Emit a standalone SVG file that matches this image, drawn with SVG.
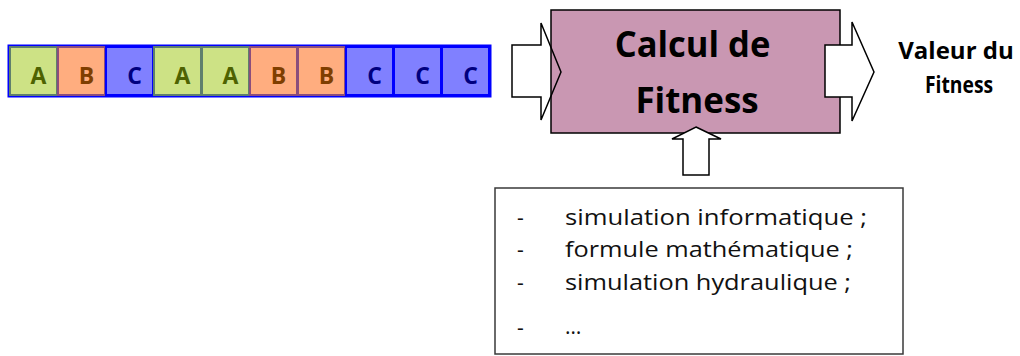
<svg xmlns="http://www.w3.org/2000/svg" width="1020" height="356" viewBox="0 0 1020 356">
  <style>
    .gene { stroke-width: 2; }
    .ga { fill: #cde285; stroke: #5f7f6d; }
    .gb { fill: #ffad7f; stroke: #8b4e7c; }
    .gc { fill: #8080ff; stroke: #0000ff; }
    .gt { font-family: "Open Sans", "Liberation Sans", sans-serif; font-weight: bold; font-size: 23px; text-anchor: middle; }
    .ta { fill: #4e6201; }
    .tb { fill: #7f3e00; }
    .tc { fill: #00007f; }
    .head { font-family: "Open Sans", "Liberation Sans", sans-serif; font-weight: bold; fill: #000; text-anchor: middle; }
    .item { font-family: "Open Sans", "Liberation Sans", sans-serif; font-size: 21px; fill: #111; }
    .blk { stroke: #000; stroke-width: 1.5; stroke-linejoin: miter; }
  </style>
  <defs>
    <polygon id="inArrow" points="512,45 541,45 541,23 561,72 541,120 541,97 512,97"/>
  </defs>

  <rect width="1020" height="356" fill="#ffffff"/>

  <!-- chromosome strip -->
  <g id="chromosome">
    <rect x="8.5" y="45.5" width="482" height="51" fill="none" stroke="#0000ff" stroke-width="2"/>
    <rect class="gene ga" x="10" y="47" width="47" height="48"/>
    <rect class="gene gb" x="58" y="47" width="47" height="48"/>
    <rect class="gene gc" x="106" y="47" width="47" height="48"/>
    <rect class="gene ga" x="154" y="47" width="47" height="48"/>
    <rect class="gene ga" x="202" y="47" width="47" height="48"/>
    <rect class="gene gb" x="250" y="47" width="47" height="48"/>
    <rect class="gene gb" x="298" y="47" width="47" height="48"/>
    <rect class="gene gc" x="346" y="47" width="47" height="48"/>
    <rect class="gene gc" x="394" y="47" width="47" height="48"/>
    <rect class="gene gc" x="442" y="47" width="47" height="48"/>
    <text class="gt ta" x="38.5" y="84">A</text>
    <text class="gt tb" x="86.5" y="84">B</text>
    <text class="gt tc" x="134.5" y="84">C</text>
    <text class="gt ta" x="182.5" y="84">A</text>
    <text class="gt ta" x="230.5" y="84">A</text>
    <text class="gt tb" x="278.5" y="84">B</text>
    <text class="gt tb" x="326.5" y="84">B</text>
    <text class="gt tc" x="374.5" y="84">C</text>
    <text class="gt tc" x="422.5" y="84">C</text>
    <text class="gt tc" x="470.5" y="84">C</text>
  </g>

  <!-- input arrow body sits under the box -->
  <g id="connectors-under">
    <use href="#inArrow" fill="#ffffff"/>
  </g>

  <!-- fitness computation box -->
  <g id="calcul">
    <rect x="551" y="10" width="289" height="123" fill="#c997b2" stroke="#000" stroke-width="1.5"/>
    <text class="head" font-size="36" transform="translate(692.5,57) scale(0.96,1)">Calcul de</text>
    <text class="head" font-size="36" transform="translate(697,113) scale(0.97,1)">Fitness</text>
  </g>

  <!-- block arrows -->
  <g id="connectors">
    <use href="#inArrow" class="blk" fill="none"/>
    <polygon class="blk" fill="#ffffff" points="825,45 852,45 852,22 874,72 852,121 852,97 825,97"/>
    <polygon class="blk" fill="#ffffff" points="696,127 721,139 709,139 709,175 683,175 683,139 672,139"/>
  </g>

  <!-- output label -->
  <g id="valeur">
    <text class="head" font-size="24" transform="translate(956,59)">Valeur du</text>
    <text class="head" font-size="23" transform="translate(959,93) scale(0.84,1)">Fitness</text>
  </g>

  <!-- evaluation methods -->
  <g id="methodes">
    <rect x="495" y="188" width="408" height="166" fill="#ffffff" stroke="#3a3a3a" stroke-width="1.5"/>
    <text class="item" x="517" y="225">-</text>
    <text class="item" x="565" y="225" textLength="302" lengthAdjust="spacingAndGlyphs">simulation informatique ;</text>
    <text class="item" x="517" y="257">-</text>
    <text class="item" x="565" y="257" textLength="288" lengthAdjust="spacingAndGlyphs">formule mathématique ;</text>
    <text class="item" x="517" y="290">-</text>
    <text class="item" x="565" y="290" textLength="286" lengthAdjust="spacingAndGlyphs">simulation hydraulique ;</text>
    <text class="item" x="517" y="335">-</text>
    <text class="item" x="565" y="334">…</text>
  </g>
</svg>
